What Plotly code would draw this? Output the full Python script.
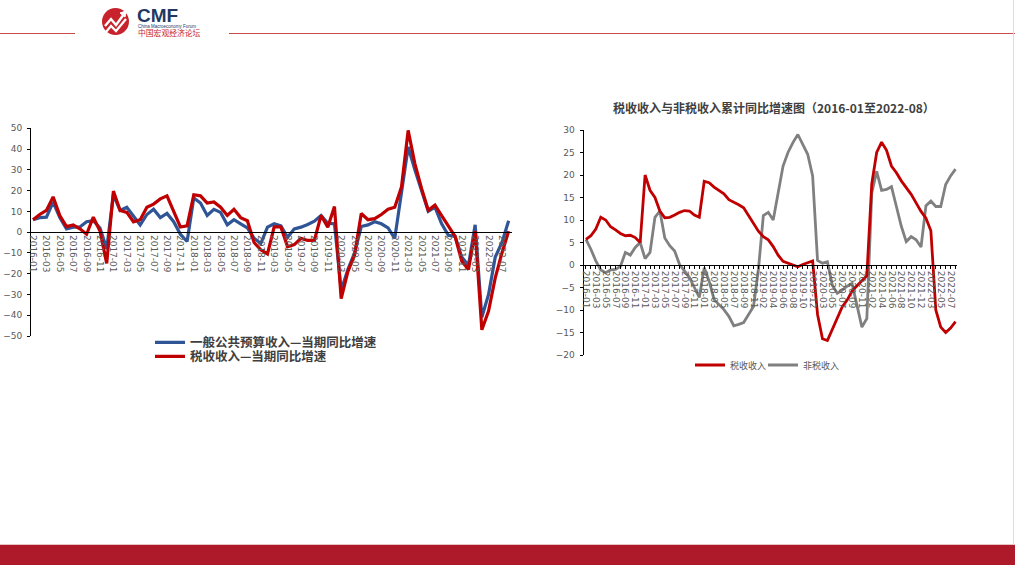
import plotly.graph_objects as go

W, H = 1015, 565


def months(year, start, end):
    return [f"{year}-{m:02d}" for m in range(start, end + 1)]


# ---------------- Left chart: current-month YoY growth (%) ----------------
left_dates = (months(2016, 1, 12) + months(2017, 1, 12) + months(2018, 1, 12)
              + months(2019, 3, 12) + months(2020, 3, 12) + months(2021, 3, 12)
              + months(2022, 3, 8))

general_budget_yoy = [
    6, 7, 7.2, 14.5, 7, 1.6, 2.4, 2.5, 5, 5.5, 2, -8,
    18, 10.5, 12, 8, 3.5, 8.5, 11, 7, 9, 5, -1, -4.5,
    16.5, 14, 8, 11, 9.5, 3.5, 6, 4, 2, -3, -5.5, 2.4,
    4, 3, -2.5, 1.6, 2.4, 3.7, 5.3, 8, 4.3, 4,
    -28, -18, -10, 2.7, 3.5, 5, 4, 2, -3, 19,
    41, 30, 20, 10, 12, 4, -1.5, -2, -12, -16,
    3.5, -41, -30, -12, -5, 5.5,
]

tax_yoy = [
    6, 8.5, 10.5, 17, 8, 2.7, 3.5, 1.6, -1, 7.2, 0.5, -15,
    19.8, 10.4, 9.5, 5, 6, 12, 13.5, 16, 17.5, 10, 2.5, 3,
    18, 17.5, 14, 14.5, 12, 8, 11, 7, 5.5, -5, -8.5, -10.5,
    2.5, 2.5, -7, -6, -3, -4, -4, 8, 2.4, 12.3,
    -32, -19, -11, 9, 6, 6.5, 8.5, 11, 12, 21.7,
    49, 33, 21, 10.5, 13, 8, 3, -2, -14, -18,
    0.5, -47, -38, -22, -10, 0.5,
]

left_names = ["一般公共预算收入—当期同比增速", "税收收入—当期同比增速"]

# ---------------- Right chart: cumulative YoY growth (%) ----------------
right_dates = (months(2016, 1, 12) + months(2017, 1, 12) + months(2018, 1, 12)
               + months(2019, 2, 12) + months(2020, 2, 12) + months(2021, 2, 12)
               + months(2022, 2, 8))

tax_cum = [
    5.7, 6.5, 8, 10.6, 10, 8.5, 7.8, 7, 6.5, 6.6, 6.1, 5,
    20, 16.6, 15, 12, 10.5, 10.6, 11.1, 11.7, 12.1, 12, 11.1, 10.6,
    18.6, 18.3, 17.3, 16.6, 15.8, 14.5, 14, 13.4, 12.7, 11, 9.5, 7.5,
    6.3, 5.6, 4.1, 2.2, 0.8, 0.4, -0.1, -0.4, 0.1, 0.5, 0.9,
    -11, -16.4, -16.8, -14.3, -11.5, -9.3, -7.8, -5.8, -4.6, -3.5, -2.4,
    18, 25, 27.3, 25.5, 22, 20.5, 18.7, 17.2, 15.7, 13.8, 11.9,
    10.4, 7.6, -10, -13.8, -15, -14, -12.6,
]

nontax_cum = [
    5.7, 3.5, 0.9, -1.1, -1.7, -1.1, -1, -0.3, 2.8, 2.2, 3.9, 5,
    1.4, 2.8, 10.6, 12, 6, 4.3, 3.1, 0.1, -1.3, -2.8, -5, -7.2,
    -0.6, -3.6, -7.7, -8.8, -9.9, -11.4, -13.5, -13.2, -12.8, -11, -9.2, -1,
    11, 11.7, 10, 16, 22, 25, 27.2, 29, 26.9, 24.6, 19.8,
    1, 0.4, 0.7, -4.5, -6.3, -5.6, -4.7, -4.1, -9, -13.8, -11.9,
    16, 20.8, 16.6, 16.8, 17.4, 13, 8.6, 5.2, 6.3, 5.6, 4,
    13.2, 14.2, 13, 13, 17.9, 19.8, 21.3,
]

right_names = ["税收收入", "非税收入"]
right_title = "税收收入与非税收入累计同比增速图（2016-01至2022-08）"

# ---------------- Styles ----------------
BLUE = "#2F5597"
RED = "#C00000"
GREY = "#808080"
TICK_COLOR = "#595959"
TICK_FONT = dict(family="DejaVu Sans", size=9, color=TICK_COLOR)
CJK = "Noto Sans CJK SC"


def px(x):
    return x / W


def py(y):
    return 1 - y / H


fig = go.Figure()

fig.add_trace(go.Scatter(x=left_dates, y=general_budget_yoy, name=left_names[0],
                         mode="lines", line=dict(color=BLUE, width=3.2),
                         xaxis="x", yaxis="y", legend="legend"))
fig.add_trace(go.Scatter(x=left_dates, y=tax_yoy, name=left_names[1],
                         mode="lines", line=dict(color=RED, width=3.2),
                         xaxis="x", yaxis="y", legend="legend2"))
fig.add_trace(go.Scatter(x=right_dates, y=nontax_cum, name=right_names[1],
                         mode="lines", line=dict(color=GREY, width=2.8),
                         xaxis="x2", yaxis="y2", legend="legend4"))
fig.add_trace(go.Scatter(x=right_dates, y=tax_cum, name=right_names[0],
                         mode="lines", line=dict(color=RED, width=2.8),
                         xaxis="x2", yaxis="y2", legend="legend3"))

ly0, ly1 = py(336), py(128.3)
ry0, ry1 = py(355), py(130)

fig.update_layout(
    xaxis=dict(domain=[px(31), px(512)], type="category", range=[-0.3, 71.5],
               anchor="free", position=ly0 + (ly1 - ly0) * 0.5,
               showline=True, linecolor="black", linewidth=1,
               tickmode="array", tickvals=left_dates[::2], ticktext=left_dates[::2],
               tickangle=90, tickfont=TICK_FONT, ticks="", showgrid=False,
               zeroline=False, automargin=False),
    yaxis=dict(domain=[ly0, ly1], range=[-50, 50], dtick=10, anchor="x",
               showline=True, linecolor="black", linewidth=1, ticks="outside",
               ticklen=3, tickcolor="black", tickfont=TICK_FONT, showgrid=False,
               zeroline=False, ticklabelstandoff=3, automargin=False),
    xaxis2=dict(domain=[px(583.5), px(957)], type="category", range=[-0.5, 75.3],
                anchor="free", position=ry0 + (ry1 - ry0) * 0.4,
                showline=True, linecolor="black", linewidth=1,
                tickmode="array", tickvals=right_dates,
                ticktext=[d if i % 2 == 0 else "" for i, d in enumerate(right_dates)],
                tickangle=90, tickfont=TICK_FONT, ticks="outside", ticklen=3,
                tickcolor="black", showgrid=False, zeroline=False, automargin=False),
    yaxis2=dict(domain=[ry0, ry1], range=[-20, 30], dtick=5, anchor="x2",
                showline=True, linecolor="black", linewidth=1, ticks="outside",
                ticklen=3, tickcolor="black", tickfont=TICK_FONT, showgrid=False,
                zeroline=False, ticklabelstandoff=3, automargin=False),
)

leg_common = dict(xanchor="left", yanchor="middle", bgcolor="rgba(0,0,0,0)",
                  borderwidth=0, orientation="v")
fig.update_layout(
    legend=dict(x=px(150), y=py(342.7),
                font=dict(family=CJK, size=12.5, color="#404040", weight="bold"),
                **leg_common),
    legend2=dict(x=px(150), y=py(356.7),
                 font=dict(family=CJK, size=12.5, color="#404040", weight="bold"),
                 **leg_common),
    legend3=dict(x=px(690), y=py(365),
                 font=dict(family=CJK, size=9, color=TICK_COLOR), **leg_common),
    legend4=dict(x=px(763), y=py(365),
                 font=dict(family=CJK, size=9, color=TICK_COLOR), **leg_common),
)

# ---------------- Decorations (page frame, logo) ----------------
shapes = [
    dict(type="line", xref="paper", yref="paper", x0=0, x1=px(75), y0=py(33.5), y1=py(33.5),
         line=dict(color="#C94A4A", width=1)),
    dict(type="line", xref="paper", yref="paper", x0=px(229), x1=1, y0=py(33.5), y1=py(33.5),
         line=dict(color="#C94A4A", width=1)),
    dict(type="rect", xref="paper", yref="paper", x0=0, x1=1, y0=0, y1=py(545),
         fillcolor="#AF1A2B", line=dict(width=0), layer="above"),
    dict(type="line", xref="paper", yref="paper", x0=0, x1=1, y0=py(544.5), y1=py(544.5),
         line=dict(color="#E9C4C4", width=1)),
    dict(type="line", xref="paper", yref="paper", x0=px(1013.5), x1=px(1013.5), y0=py(545), y1=1,
         line=dict(color="#DDDDDD", width=1)),
    dict(type="circle", xref="paper", yref="paper", x0=px(102), x1=px(129), y0=py(35), y1=py(8),
         fillcolor="#C8232C", line=dict(width=0)),
]


def ppath(points):
    return "M" + " L".join(f"{px(x):.5f},{py(y):.5f}" for x, y in points)


shapes.append(dict(type="path", xref="paper", yref="paper",
                   path=ppath([(105, 26), (111, 19), (116, 25), (124, 14)]),
                   line=dict(color="white", width=2.4)))
shapes.append(dict(type="path", xref="paper", yref="paper",
                   path=ppath([(106, 32), (111, 26), (116, 31), (126, 19)]),
                   line=dict(color="white", width=2.2)))
shapes.append(dict(type="path", xref="paper", yref="paper",
                   path=ppath([(120, 13), (126, 11), (125, 17)]) + " Z",
                   fillcolor="white", line=dict(color="white", width=1)))

annotations = [
    dict(text="CMF", x=px(135), y=py(15.5), xref="paper", yref="paper",
         xanchor="left", yanchor="middle", showarrow=False,
         font=dict(family="Liberation Sans", size=19, color="#1F3864", weight="bold")),
    dict(text="China Macroeconomy Forum", x=px(136), y=py(26.3), xref="paper", yref="paper",
         xanchor="left", yanchor="middle", showarrow=False,
         font=dict(family="Liberation Sans", size=4.5, color="#1F3864")),
    dict(text="中国宏观经济论坛", x=px(136), y=py(33), xref="paper", yref="paper",
         xanchor="left", yanchor="middle", showarrow=False,
         font=dict(family=CJK, size=7.8, color="#C8232C")),
    dict(text=right_title, x=px(774), y=py(108), xref="paper", yref="paper",
         xanchor="center", yanchor="middle", showarrow=False,
         font=dict(family=CJK, size=12, color="#404040", weight="bold")),
]

fig.update_layout(
    width=W, height=H, margin=dict(l=0, r=0, t=0, b=0, pad=0, autoexpand=False),
    paper_bgcolor="white", plot_bgcolor="white",
    shapes=shapes, annotations=annotations, showlegend=True,
    hovermode=False,
)

fig.write_html(
    "out.html",
    config={"displayModeBar": False},
    post_script="document.body.style.margin='0';document.body.style.overflow='hidden';",
)
